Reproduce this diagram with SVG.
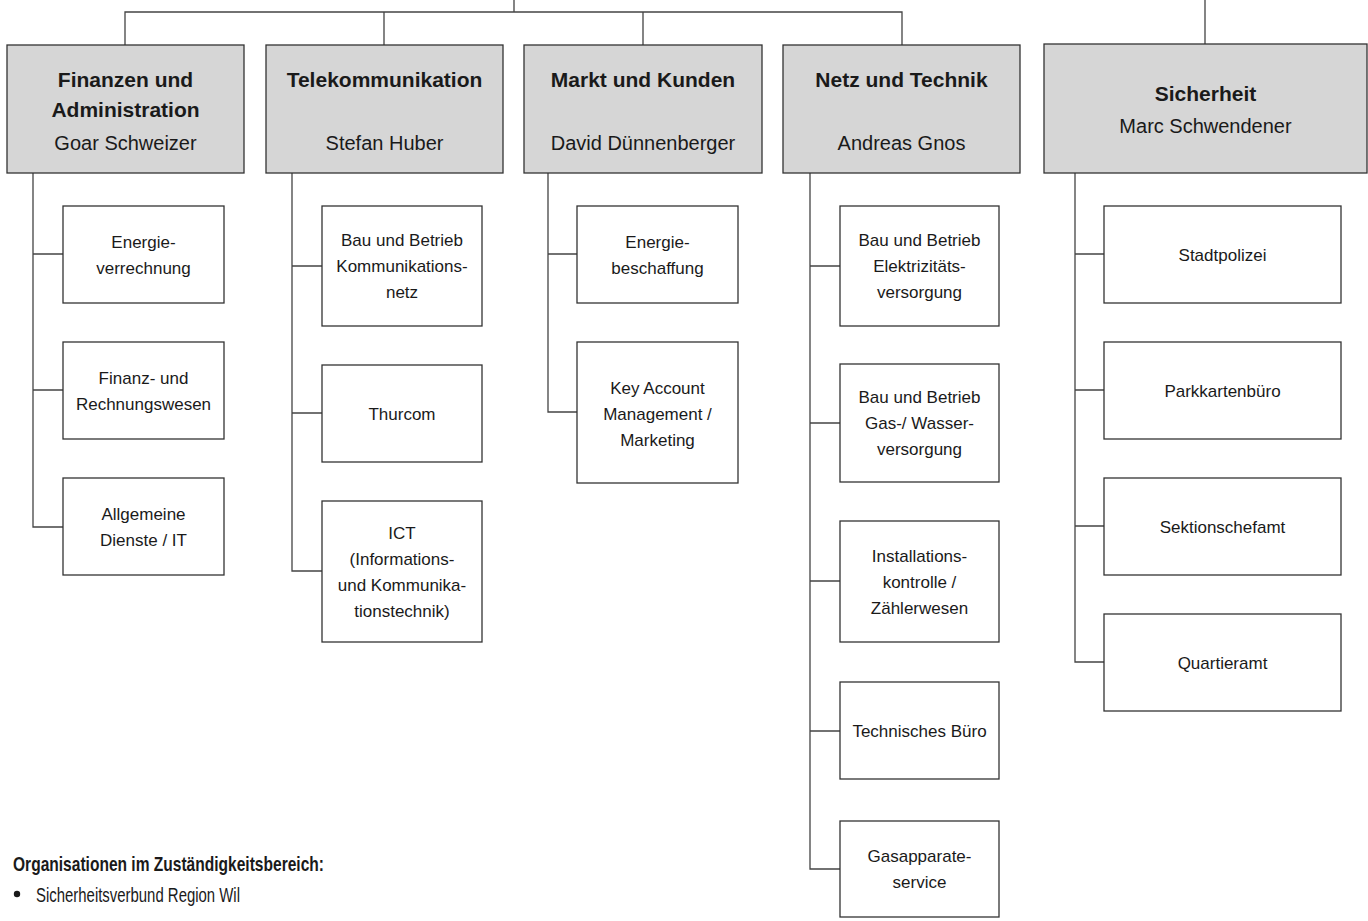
<svg xmlns="http://www.w3.org/2000/svg" width="1368" height="921" viewBox="0 0 1368 921">
<style>
  .hdr{fill:#d6d6d6;stroke:#333;stroke-width:1.3}
  .sub{fill:#fff;stroke:#333;stroke-width:1.3}
  .con{fill:none;stroke:#444;stroke-width:1.3}
  text{font-family:"Liberation Sans",Arial,sans-serif;fill:#1a1a1a;text-anchor:middle}
  .hb{font-size:21px;font-weight:bold}
  .hn{font-size:20px}
  .st{font-size:17px}
  .lg{text-anchor:start;font-size:21px}
  .lgb{text-anchor:start;font-size:21px;font-weight:bold}
</style>
<rect width="1368" height="921" fill="#fff"/>
<g id="connectors" class="con">
  <path d="M125,45 V12 H902 V45 M384,12 V45 M643,12 V45 M514,0 V12 M1205,0 V44"/>
  <path d="M33,173 V527 H63 M33,254 H63 M33,390 H63"/>
  <path d="M292,173 V571 H322 M292,266 H322 M292,413 H322"/>
  <path d="M548,173 V412 H577 M548,254 H577"/>
  <path d="M810,173 V869 H840 M810,266 H840 M810,423 H840 M810,581 H840 M810,731 H840"/>
  <path d="M1075,173 V662 H1104 M1075,254 H1104 M1075,390 H1104 M1075,526 H1104"/>
</g>
<g id="h-finanzen"><rect class="hdr" x="7" y="45" width="237" height="128"/>
  <text class="hb" x="125.5" y="87">Finanzen und</text><text class="hb" x="125.5" y="117">Administration</text><text class="hn" x="125.5" y="150">Goar Schweizer</text></g>
<g id="h-telekom"><rect class="hdr" x="266" y="45" width="237" height="128"/>
  <text class="hb" x="384.5" y="87">Telekommunikation</text><text class="hn" x="384.5" y="150">Stefan Huber</text></g>
<g id="h-markt"><rect class="hdr" x="524" y="45" width="238" height="128"/>
  <text class="hb" x="643" y="87">Markt und Kunden</text><text class="hn" x="643" y="150">David Dünnenberger</text></g>
<g id="h-netz"><rect class="hdr" x="783" y="45" width="237" height="128"/>
  <text class="hb" x="901.5" y="87">Netz und Technik</text><text class="hn" x="901.5" y="150">Andreas Gnos</text></g>
<g id="h-sicherheit"><rect class="hdr" x="1044" y="44" width="323" height="129"/>
  <text class="hb" x="1205.5" y="101">Sicherheit</text><text class="hn" x="1205.5" y="133">Marc Schwendener</text></g>

<g id="s-energieverrechnung"><rect class="sub" x="63" y="206" width="161" height="97"/>
  <text class="st" x="143.5" y="247.5">Energie-</text><text class="st" x="143.5" y="273.5">verrechnung</text></g>
<g id="s-finanzwesen"><rect class="sub" x="63" y="342" width="161" height="97"/>
  <text class="st" x="143.5" y="383.5">Finanz- und</text><text class="st" x="143.5" y="409.5">Rechnungswesen</text></g>
<g id="s-dienste"><rect class="sub" x="63" y="478" width="161" height="97"/>
  <text class="st" x="143.5" y="519.5">Allgemeine</text><text class="st" x="143.5" y="545.5">Dienste / IT</text></g>

<g id="s-kommnetz"><rect class="sub" x="322" y="206" width="160" height="120"/>
  <text class="st" x="402" y="246">Bau und Betrieb</text><text class="st" x="402" y="272">Kommunikations-</text><text class="st" x="402" y="298">netz</text></g>
<g id="s-thurcom"><rect class="sub" x="322" y="365" width="160" height="97"/>
  <text class="st" x="402" y="419.5">Thurcom</text></g>
<g id="s-ict"><rect class="sub" x="322" y="501" width="160" height="141"/>
  <text class="st" x="402" y="538.5">ICT</text><text class="st" x="402" y="564.5">(Informations-</text><text class="st" x="402" y="590.5">und Kommunika-</text><text class="st" x="402" y="616.5">tionstechnik)</text></g>

<g id="s-energiebeschaffung"><rect class="sub" x="577" y="206" width="161" height="97"/>
  <text class="st" x="657.5" y="247.5">Energie-</text><text class="st" x="657.5" y="273.5">beschaffung</text></g>
<g id="s-keyaccount"><rect class="sub" x="577" y="342" width="161" height="141"/>
  <text class="st" x="657.5" y="393.5">Key Account</text><text class="st" x="657.5" y="419.5">Management /</text><text class="st" x="657.5" y="445.5">Marketing</text></g>

<g id="s-elektrizitaet"><rect class="sub" x="840" y="206" width="159" height="120"/>
  <text class="st" x="919.5" y="246">Bau und Betrieb</text><text class="st" x="919.5" y="272">Elektrizitäts-</text><text class="st" x="919.5" y="298">versorgung</text></g>
<g id="s-gaswasser"><rect class="sub" x="840" y="364" width="159" height="118"/>
  <text class="st" x="919.5" y="403">Bau und Betrieb</text><text class="st" x="919.5" y="429">Gas-/ Wasser-</text><text class="st" x="919.5" y="455">versorgung</text></g>
<g id="s-installation"><rect class="sub" x="840" y="521" width="159" height="121"/>
  <text class="st" x="919.5" y="561.5">Installations-</text><text class="st" x="919.5" y="587.5">kontrolle /</text><text class="st" x="919.5" y="613.5">Zählerwesen</text></g>
<g id="s-technbuero"><rect class="sub" x="840" y="682" width="159" height="97"/>
  <text class="st" x="919.5" y="736.5">Technisches Büro</text></g>
<g id="s-gasapparate"><rect class="sub" x="840" y="821" width="159" height="96"/>
  <text class="st" x="919.5" y="862">Gasapparate-</text><text class="st" x="919.5" y="888">service</text></g>

<g id="s-stadtpolizei"><rect class="sub" x="1104" y="206" width="237" height="97"/>
  <text class="st" x="1222.5" y="260.5">Stadtpolizei</text></g>
<g id="s-parkkarten"><rect class="sub" x="1104" y="342" width="237" height="97"/>
  <text class="st" x="1222.5" y="396.5">Parkkartenbüro</text></g>
<g id="s-sektionschef"><rect class="sub" x="1104" y="478" width="237" height="97"/>
  <text class="st" x="1222.5" y="532.5">Sektionschefamt</text></g>
<g id="s-quartieramt"><rect class="sub" x="1104" y="614" width="237" height="97"/>
  <text class="st" x="1222.5" y="668.5">Quartieramt</text></g>

<g id="legend">
  <text class="lgb" x="13" y="871" textLength="311" lengthAdjust="spacingAndGlyphs">Organisationen im Zuständigkeitsbereich:</text>
  <circle cx="17" cy="894" r="3.2" fill="#1a1a1a"/>
  <text class="lg" x="36" y="902" textLength="204" lengthAdjust="spacingAndGlyphs">Sicherheitsverbund Region Wil</text>
</g>
</svg>
